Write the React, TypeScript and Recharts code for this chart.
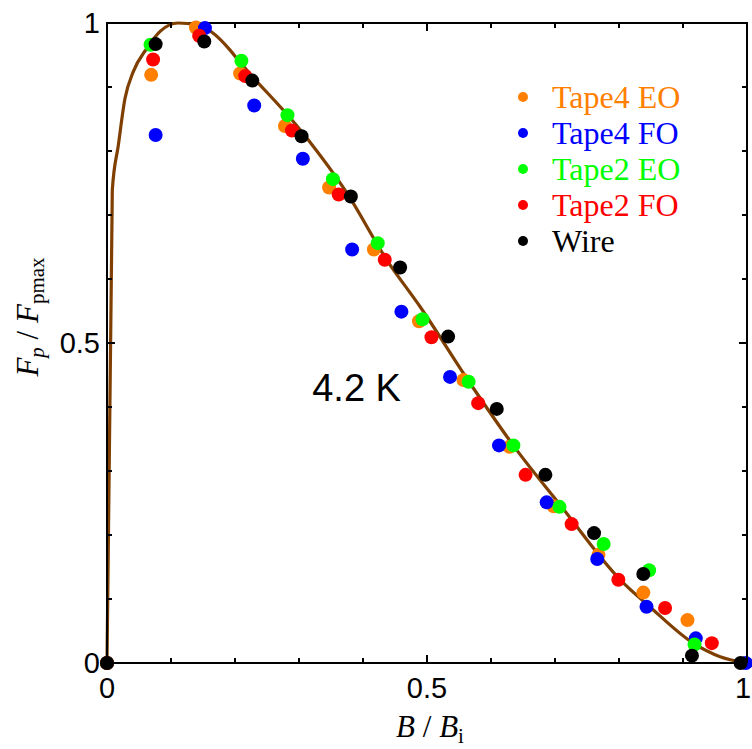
import { ComposedChart, Scatter, Line, XAxis, YAxis, ReferenceDot, ReferenceLine } from "recharts";

// normalized field b = B/Bi, normalized pinning force f = Fp/Fpmax
const tape4EO: [number, number][] = [
  [0, 0], [0.069, 0.919], [0.139, 0.993], [0.208, 0.921], [0.278, 0.839], [0.347, 0.743],
  [0.417, 0.646], [0.4875, 0.534], [0.557, 0.442], [0.629, 0.338], [0.698, 0.245],
  [0.768, 0.169], [0.838, 0.11], [0.907, 0.067],
];
const tape4FO: [number, number][] = [
  [0, 0], [0.076, 0.825], [0.153, 0.992], [0.23, 0.871], [0.306, 0.788], [0.383, 0.646],
  [0.46, 0.549], [0.536, 0.447], [0.6125, 0.34], [0.687, 0.251], [0.766, 0.1625],
  [0.843, 0.088], [0.92, 0.0385], [0.998, 0],
];
const tape2EO: [number, number][] = [
  [0, 0], [0.068, 0.966], [0.21, 0.941], [0.282, 0.856], [0.353, 0.756], [0.423, 0.656],
  [0.493, 0.537], [0.565, 0.4395], [0.635, 0.34], [0.707, 0.244], [0.776, 0.186],
  [0.847, 0.145], [0.918, 0.029],
];
const tape2FO: [number, number][] = [
  [0, 0], [0.072, 0.943], [0.144, 0.98], [0.216, 0.917], [0.289, 0.832], [0.362, 0.732],
  [0.434, 0.63], [0.507, 0.509], [0.58, 0.406], [0.654, 0.294], [0.726, 0.217],
  [0.799, 0.13], [0.872, 0.086], [0.945, 0.031],
];
const wire: [number, number][] = [
  [0, 0], [0.076, 0.967], [0.152, 0.971], [0.227, 0.91], [0.304, 0.823], [0.381, 0.729],
  [0.458, 0.618], [0.533, 0.51], [0.609, 0.397], [0.685, 0.294], [0.761, 0.203],
  [0.838, 0.139], [0.914, 0.0115], [0.99, 0],
];
// fitted scaling curve
const fitCurve: [number, number][] = [
  [0, 0], [0.0083, 0.739], [0.0177, 0.809], [0.0281, 0.882], [0.0411, 0.924], [0.062, 0.96],
  [0.083, 0.987], [0.111, 1.0], [0.14, 0.997], [0.166, 0.984], [0.192, 0.958], [0.205, 0.942],
  [0.306, 0.828], [0.375, 0.734], [0.437, 0.63], [0.489, 0.557], [0.567, 0.4375],
  [0.64, 0.333], [0.708, 0.247], [0.802, 0.13], [0.848, 0.088], [0.916, 0.031],
  [0.958, 0.0098], [1, 0],
];

const TICKS = [0, 0.1, 0.2, 0.3, 0.4, 0.5, 0.6, 0.7, 0.8, 0.9, 1];
const TICK_LABELS: Record<string, string> = { "0": "0", "0.5": "0.5", "1": "1" };

const SERIES = [
  { name: "Tape4 EO", color: "#FF8000", points: tape4EO },
  { name: "Tape4 FO", color: "#0000FF", points: tape4FO },
  { name: "Tape2 EO", color: "#00FF00", points: tape2EO },
  { name: "Tape2 FO", color: "#FF0000", points: tape2FO },
  { name: "Wire", color: "#000000", points: wire },
];

const toRows = (pts: [number, number][]) => pts.map(([x, y]) => ({ x, y }));

const SANS = "'Liberation Sans', Arial, sans-serif";
const SERIF = "'Liberation Serif', 'Times New Roman', serif";

// chart box: plot spans x 107..747, y 23..663
const W = 752;
const H = 749;
const MARGIN = { top: 23, right: 5, bottom: 85, left: 106 };
const PLOT = { left: 107, top: 23, right: 747, bottom: 663 };

function isMajor(v: number) {
  return TICK_LABELS[String(v)] !== undefined;
}

function BottomTick({ x, y, payload }: any) {
  const v = payload.value;
  const major = isMajor(v);
  const len = major ? 8 : 5;
  return (
    <g>
      <line x1={x} x2={x} y1={y} y2={y - len} stroke="#000" strokeWidth={2} />
      <line x1={x} x2={x} y1={PLOT.top} y2={PLOT.top + len} stroke="#000" strokeWidth={2} />
      {major && (
        <text x={Math.min(x, 743)} y={y + 35} textAnchor="middle" fontSize={29} fontFamily={SANS} fill="#000">
          {TICK_LABELS[String(v)]}
        </text>
      )}
    </g>
  );
}

function LeftTick({ x, y, payload }: any) {
  const v = payload.value;
  const major = isMajor(v);
  const len = major ? 8 : 5;
  return (
    <g>
      <line x1={x} x2={x + len} y1={y} y2={y} stroke="#000" strokeWidth={2} />
      <line x1={PLOT.right} x2={PLOT.right - len} y1={y} y2={y} stroke="#000" strokeWidth={2} />
      {major && (
        <text x={x - 7} y={y + 10} textAnchor="end" fontSize={29} fontFamily={SANS} fill="#000">
          {TICK_LABELS[String(v)]}
        </text>
      )}
    </g>
  );
}

function XTitle() {
  return (
    <text x={430} y={737} textAnchor="middle" fontSize={31} fontFamily={SERIF} fill="#000">
      <tspan fontStyle="italic">B</tspan>
      <tspan> / </tspan>
      <tspan fontStyle="italic">B</tspan>
      <tspan fontSize={21} dy={6}>i</tspan>
    </text>
  );
}

function YTitle() {
  const x = 38;
  const y = 317;
  return (
    <text
      x={x}
      y={y}
      transform={`rotate(-90, ${x}, ${y})`}
      textAnchor="middle"
      fontSize={31}
      fontFamily={SERIF}
      fill="#000"
    >
      <tspan fontStyle="italic">F</tspan>
      <tspan fontStyle="italic" fontSize={21} dy={6}>p</tspan>
      <tspan dy={-6}> / </tspan>
      <tspan fontStyle="italic">F</tspan>
      <tspan fontSize={21} dy={6}>pmax</tspan>
    </text>
  );
}

function Dot(color: string) {
  return (props: any) => <circle cx={props.cx} cy={props.cy} r={7} fill={color} />;
}

export default function App() {
  return (
    <div style={{ position: "absolute", left: 0, top: 0, width: W, height: H, background: "#fff" }}>
      {/* plot frame as a plain bordered box */}
      <div
        style={{
          position: "absolute",
          left: PLOT.left - 1,
          top: PLOT.top - 1,
          width: PLOT.right - PLOT.left + 2,
          height: PLOT.bottom - PLOT.top + 2,
          border: "2px solid #000",
          boxSizing: "border-box",
        }}
      />
      <div style={{ position: "absolute", left: 0, top: 0 }}>
        <ComposedChart width={W} height={H} margin={MARGIN}>
          <XAxis
            type="number"
            dataKey="x"
            domain={[0, 1]}
            ticks={TICKS}
            interval={0}
            height={1}
            tickSize={0}
            tickMargin={0}
            tickLine={false}
            axisLine={{ stroke: "#000", strokeWidth: 2 }}
            tick={<BottomTick />}
          />
          <YAxis
            type="number"
            dataKey="y"
            domain={[0, 1]}
            ticks={TICKS}
            interval={0}
            width={1}
            tickSize={0}
            tickMargin={0}
            tickLine={false}
            axisLine={{ stroke: "#000", strokeWidth: 2 }}
            tick={<LeftTick />}
          />
          <ReferenceLine y={1} stroke="#000" strokeWidth={2} ifOverflow="visible" />
          <ReferenceLine x={1} stroke="#000" strokeWidth={2} ifOverflow="visible" />
          {SERIES.map((s) => (
            <Scatter
              key={s.name}
              name={s.name}
              data={toRows(s.points)}
              fill={s.color}
              shape={Dot(s.color)}
              isAnimationActive={false}
            />
          ))}
          <Line
            data={toRows(fitCurve)}
            dataKey="y"
            type="monotone"
            stroke="#7F3F00"
            strokeWidth={3.2}
            dot={false}
            activeDot={false}
            isAnimationActive={false}
          />
          <ReferenceDot
            x={0.39}
            y={0.432}
            r={0}
            shape={(p: any) => (
              <text x={p.cx} y={p.cy + 14} textAnchor="middle" fontSize={38} fontFamily={SANS} fill="#000">
                4.2 K
              </text>
            )}
          />
        </ComposedChart>
      </div>
      <svg
        width={W}
        height={H}
        style={{ position: "absolute", left: 0, top: 0, pointerEvents: "none" }}
      >
        <XTitle />
        <YTitle />
      </svg>
      <div style={{ position: "absolute", left: 514, top: 79, fontFamily: SERIF, fontSize: 32 }}>
        {SERIES.map((s) => (
          <div key={s.name} style={{ height: 36, display: "flex", alignItems: "center", color: s.color }}>
            <span
              style={{
                display: "inline-block",
                width: 10,
                height: 10,
                borderRadius: 5,
                background: s.color,
                marginLeft: 4,
                marginRight: 24,
              }}
            />
            <span style={{ lineHeight: "36px", whiteSpace: "nowrap" }}>{s.name}</span>
          </div>
        ))}
      </div>
    </div>
  );
}
